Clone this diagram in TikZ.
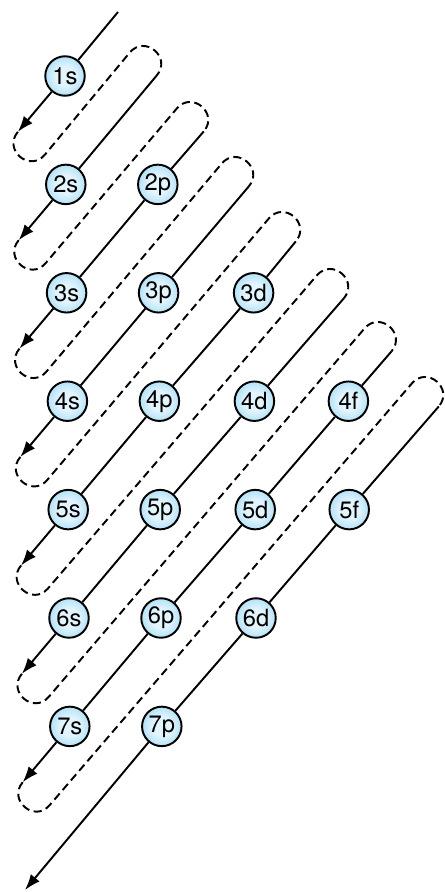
\documentclass[tikz,border=0pt]{standalone}
\usepackage{fontspec}
\setmainfont{TeX Gyre Heros}
\usetikzlibrary{arrows.meta,calc}
\definecolor{orbcentre}{RGB}{226,244,253}
\definecolor{orbedge}{RGB}{92,192,236}
\pgfdeclareradialshading{orbshade}{\pgfpointorigin}{color(0bp)=(orbcentre); color(12bp)=(orbcentre); color(50bp)=(orbedge)}
\tikzset{
  orbital/.style={circle, draw, line width=1.1pt, minimum size=0.79cm, inner sep=0pt,
    shade, shading=orbshade, font=\fontsize{13.5}{15}\selectfont},
  fillline/.style={line width=1.1pt},
  turnline/.style={line width=1.1pt, dash pattern=on 4.6pt off 2.6pt},
}

\begin{document}
\begin{tikzpicture}[x=0.02cm, y=-0.02cm, >={Latex[length=9pt,width=6.5pt]}]
  \useasboundingbox (0,0) rectangle (444,892);
  % orbitals, one row per shell
  \node[orbital] (o1s) at (65,76) {1s};
  \node[orbital] (o2s) at (65.8,184.4) {2s};
  \node[orbital] (o2p) at (157.8,184.4) {2p};
  \node[orbital] (o3s) at (66.6,292.8) {3s};
  \node[orbital] (o3p) at (158.6,292.8) {3p};
  \node[orbital] (o3d) at (253.6,292.8) {3d};
  \node[orbital] (o4s) at (67.4,401.2) {4s};
  \node[orbital] (o4p) at (159.4,401.2) {4p};
  \node[orbital] (o4d) at (254.4,401.2) {4d};
  \node[orbital] (o4f) at (348.4,401.2) {4f};
  \node[orbital] (o5s) at (68.2,509.6) {5s};
  \node[orbital] (o5p) at (160.2,509.6) {5p};
  \node[orbital] (o5d) at (255.2,509.6) {5d};
  \node[orbital] (o5f) at (349.2,509.6) {5f};
  \node[orbital] (o6s) at (69,618) {6s};
  \node[orbital] (o6p) at (161,618) {6p};
  \node[orbital] (o6d) at (256,618) {6d};
  \node[orbital] (o7s) at (69.8,726.4) {7s};
  \node[orbital] (o7p) at (161.8,726.4) {7p};
  % upper ends of the diagonals
  \coordinate (T1) at (118,12);
  \coordinate (T2) at (156.8,75.4);
  \coordinate (T3) at (203.8,131.4);
  \coordinate (T4) at (248.8,186.4);
  \coordinate (T5) at (295.8,241.4);
  \coordinate (T6) at (343.8,298.4);
  \coordinate (T7) at (391.5,351.4);
  \coordinate (T8) at (438.8,406.4);
  % arrow tips
  \coordinate (B1) at (17.9,131.8);
  \coordinate (B2) at (18.7,240.2);
  \coordinate (B3) at (19.5,348.6);
  \coordinate (B4) at (20.3,457);
  \coordinate (B5) at (21.1,565.4);
  \coordinate (B6) at (21.9,673.8);
  \coordinate (B7) at (22.7,782.2);
  \coordinate (B8) at (25,890);
  % ends of the dashed returns
  \coordinate (E1) at (44.9,154.7);
  \coordinate (E2) at (45.7,263.1);
  \coordinate (E3) at (46.5,371.5);
  \coordinate (E4) at (47.3,479.9);
  \coordinate (E5) at (48.1,588.3);
  \coordinate (E6) at (48.9,696.7);
  \coordinate (E7) at (49.7,805.1);
  \coordinate (D2) at (129.8,52.5);
  \coordinate (D3) at (176.8,108.5);
  \coordinate (D4) at (221.8,163.5);
  \coordinate (D5) at (268.8,218.5);
  \coordinate (D6) at (316.8,275.5);
  \coordinate (D7) at (364.5,328.5);
  \coordinate (D8) at (411.8,383.5);
  % filling order
  \draw[fillline,->] (T1) -- (o1s) -- (B1);
  \draw[fillline,->] (T2) -- (o2s) -- (B2);
  \draw[fillline,->] (T3) -- (o2p) -- (o3s) -- (B3);
  \draw[fillline,->] (T4) -- (o3p) -- (o4s) -- (B4);
  \draw[fillline,->] (T5) -- (o3d) -- (o4p) -- (o5s) -- (B5);
  \draw[fillline,->] (T6) -- (o4d) -- (o5p) -- (o6s) -- (B6);
  \draw[fillline,->] (T7) -- (o4f) -- (o5d) -- (o6p) -- (o7s) -- (B7);
  \draw[fillline,->] (T8) -- (o5f) -- (o6d) -- (o7p) -- (B8);
  % dashed returns
  \draw[turnline] (B1) .. controls ($(B1)+(-15.2,18)$) and ($(E1)+(-15.2,18)$) .. (E1) -- (D2)
    .. controls ($(D2)+(15.2,-18)$) and ($(T2)+(15.2,-18)$) .. (T2);
  \draw[turnline] (B2) .. controls ($(B2)+(-15.2,18)$) and ($(E2)+(-15.2,18)$) .. (E2) -- (D3)
    .. controls ($(D3)+(15.2,-18)$) and ($(T3)+(15.2,-18)$) .. (T3);
  \draw[turnline] (B3) .. controls ($(B3)+(-15.2,18)$) and ($(E3)+(-15.2,18)$) .. (E3) -- (D4)
    .. controls ($(D4)+(15.2,-18)$) and ($(T4)+(15.2,-18)$) .. (T4);
  \draw[turnline] (B4) .. controls ($(B4)+(-15.2,18)$) and ($(E4)+(-15.2,18)$) .. (E4) -- (D5)
    .. controls ($(D5)+(15.2,-18)$) and ($(T5)+(15.2,-18)$) .. (T5);
  \draw[turnline] (B5) .. controls ($(B5)+(-15.2,18)$) and ($(E5)+(-15.2,18)$) .. (E5) -- (D6)
    .. controls ($(D6)+(15.2,-18)$) and ($(T6)+(15.2,-18)$) .. (T6);
  \draw[turnline] (B6) .. controls ($(B6)+(-15.2,18)$) and ($(E6)+(-15.2,18)$) .. (E6) -- (D7)
    .. controls ($(D7)+(15.2,-18)$) and ($(T7)+(15.2,-18)$) .. (T7);
  \draw[turnline] (B7) .. controls ($(B7)+(-15.2,18)$) and ($(E7)+(-15.2,18)$) .. (E7) -- (D8)
    .. controls ($(D8)+(15.2,-18)$) and ($(T8)+(15.2,-18)$) .. (T8);
\end{tikzpicture}
\end{document}
